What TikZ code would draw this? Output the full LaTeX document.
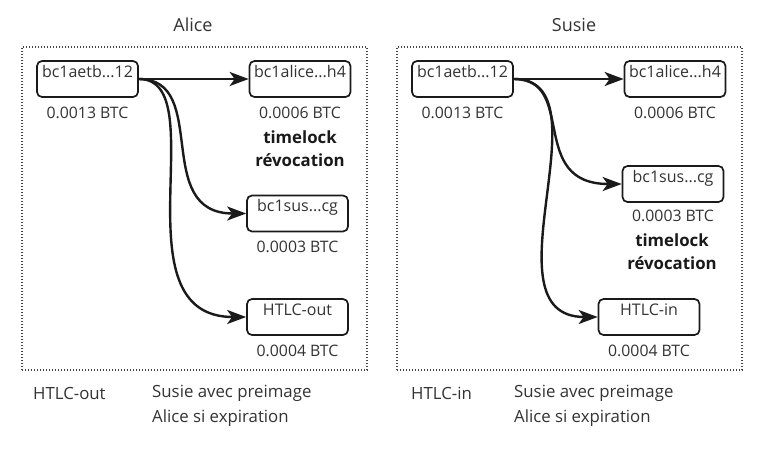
\documentclass[tikz,border=0pt]{standalone}
\usepackage{fontspec}
\setmainfont{Open Sans}
\usetikzlibrary{arrows.meta}
\definecolor{txt}{HTML}{333333}
\definecolor{edge}{HTML}{1A1A1A}
\definecolor{dots}{HTML}{444444}
\newcommand{\boxfont}{\fontsize{16}{19}\selectfont}
\newcommand{\lblfont}{\fontsize{15.8}{19}\selectfont}
\newcommand{\boldfont}{\fontsize{16.8}{20}\selectfont\bfseries}
\newcommand{\notefont}{\fontsize{16.8}{20}\selectfont}
\newcommand{\titlefont}{\fontsize{18}{21}\selectfont}
\begin{document}
\begin{tikzpicture}[x=1pt,y=-1pt,
  frame/.style={draw=dots, line width=1.3pt, dash pattern=on 1.3pt off 1.7pt, minimum width=345pt, minimum height=323pt, inner sep=0pt},
  addr/.style={draw=edge, line width=1.7pt, rounded corners=5pt, minimum width=101pt, inner xsep=2pt, inner ysep=0pt, text height=16pt, text depth=20pt, font=\boxfont, text=txt},
  lbl/.style={font=\lblfont, text=txt, inner sep=0pt},
  bld/.style={font=\boldfont, text=black!90, inner sep=0pt},
  note/.style={font=\notefont, text=txt, inner sep=0pt, anchor=west},
  ttl/.style={font=\titlefont, text=txt, inner sep=0pt},
  conn/.style={line width=2.4pt, draw=edge, -{Stealth[length=19pt,width=14pt,inset=5pt]}}
]
\useasboundingbox (0,0) rectangle (773,450);
\fill[white] (0,0) rectangle (773,450);

% Alice
\node[ttl] (TA) at (193,25) {Alice};
\node[frame] (FA) at (194.5,208.5) {};
\node[addr] (A1) at (87.5,79) {bc1aetb...12};
\node[addr] (A2) at (300,79) {bc1alice...h4};
\node[addr] (A3) at (297.5,213.5) {bc1sus...cg};
\node[addr] (A4) at (297.5,317) {HTLC-out};
\node[lbl] (A1l) at (87.5,113) {0.0013 BTC};
\node[lbl] (A2l) at (300,113) {0.0006 BTC};
\node[bld] (A2t) at (300,137) {timelock};
\node[bld] (A2r) at (300,160) {révocation};
\node[lbl] (A3l) at (297.5,247) {0.0003 BTC};
\node[lbl] (A4l) at (297.5,351) {0.0004 BTC};
\node[note] (NA1) at (33,393) {HTLC-out};
\node[note] (NA2) at (152,393) {Susie avec preimage};
\node[note] (NA3) at (152,418) {Alice si expiration};
\draw[conn] (A1.east) -- (A2.west);
\draw[conn] (A1.east) .. controls +(72,0) and +(-95,0) .. (A3.west);
\draw[conn] (A1.east) .. controls +(77,0) and +(-132,0) .. (A4.west);

% Susie
\node[ttl] (TS) at (574,25) {Susie};
\node[frame] (FS) at (569.5,208.5) {};
\node[addr] (S1) at (462.5,79) {bc1aetb...12};
\node[addr] (S2) at (675,79) {bc1alice...h4};
\node[addr] (S3) at (673,184) {bc1sus...cg};
\node[addr] (S4) at (649,317) {HTLC-in};
\node[lbl] (S1l) at (462.5,113) {0.0013 BTC};
\node[lbl] (S2l) at (675,113) {0.0006 BTC};
\node[lbl] (S3l) at (673,216) {0.0003 BTC};
\node[bld] (S3t) at (672,240) {timelock};
\node[bld] (S3r) at (672,263) {révocation};
\node[lbl] (S4l) at (649,351) {0.0004 BTC};
\node[note] (NS1) at (411,393) {HTLC-in};
\node[note] (NS2) at (514,393) {Susie avec preimage};
\node[note] (NS3) at (514,418) {Alice si expiration};
\draw[conn] (S1.east) -- (S2.west);
\draw[conn] (S1.east) .. controls +(64,0) and +(-95,0) .. (S3.west);
\draw[conn] (S1.east) .. controls +(97,0) and +(-117,0) .. (S4.west);
\end{tikzpicture}
\end{document}
